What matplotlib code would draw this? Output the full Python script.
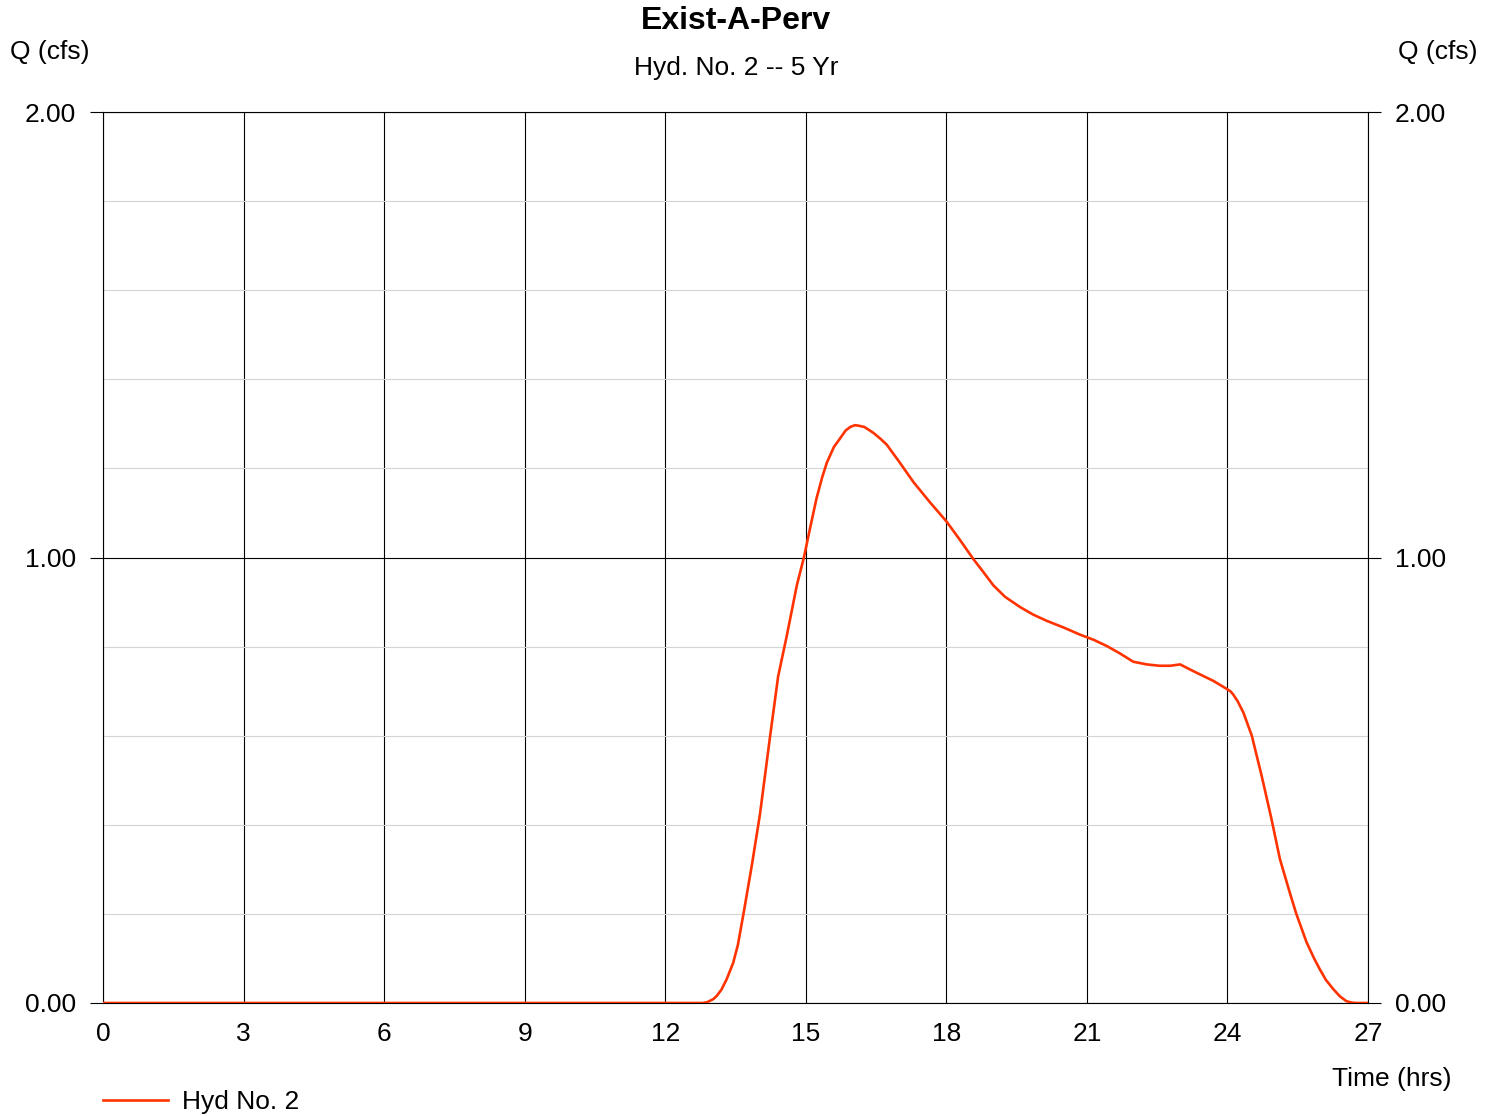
import matplotlib.pyplot as plt
from matplotlib.ticker import MultipleLocator, FormatStrFormatter

plt.rcParams['font.family'] = ['Liberation Sans', 'DejaVu Sans']

# Hydrograph (hrs, cfs)
time_hrs = [0.0, 12.0, 12.8, 12.9, 13.03, 13.1, 13.2, 13.31, 13.45, 13.55, 13.67,
            13.85, 14.02, 14.24, 14.41, 14.59, 14.81, 14.96, 15.1, 15.23, 15.35,
            15.45, 15.6, 15.73, 15.85, 15.95, 16.05, 16.12, 16.25, 16.44, 16.6,
            16.73, 17.0, 17.30, 17.65, 18.01, 18.3, 18.58, 18.8, 19.0, 19.25,
            19.57, 19.85, 20.14, 20.5, 20.85, 21.15, 21.43, 21.7, 21.99, 22.28,
            22.55, 22.78, 22.99, 23.27, 23.70, 24.0, 24.06, 24.12, 24.22, 24.34,
            24.52, 24.73, 24.94, 25.12, 25.33, 25.47, 25.69, 25.85, 25.97, 26.1,
            26.26, 26.4, 26.54, 26.65, 26.75, 27.0]
flow_cfs = [0.0, 0.0, 0.0, 0.002, 0.009, 0.016, 0.03, 0.053, 0.09, 0.13, 0.2,
            0.31, 0.422, 0.6, 0.733, 0.822, 0.938, 1.0, 1.07, 1.133, 1.18,
            1.213, 1.248, 1.267, 1.285, 1.293, 1.297, 1.296, 1.293, 1.28, 1.266,
            1.253, 1.214, 1.169, 1.124, 1.08, 1.038, 0.996, 0.966, 0.938, 0.912,
            0.889, 0.872, 0.858, 0.843, 0.827, 0.815, 0.801, 0.785, 0.766, 0.760,
            0.757, 0.757, 0.760, 0.745, 0.723, 0.704, 0.700, 0.693, 0.677, 0.652,
            0.600, 0.510, 0.413, 0.323, 0.248, 0.2, 0.136, 0.10, 0.076, 0.052,
            0.031, 0.015, 0.004, 0.001, 0.0, 0.0]

W, H = 1497, 1116
fig = plt.figure(figsize=(W / 100, H / 100), dpi=100)
ax = fig.add_axes([103 / W, 1 - 1003 / H, (1368 - 103) / W, (1003 - 112) / H])

ax.plot(time_hrs, flow_cfs, color='#ff3300', lw=1.9, label='Hyd No. 2', zorder=3)

ax.set_xlim(0, 27)
ax.set_ylim(0, 2)
ax.xaxis.set_major_locator(MultipleLocator(3))
ax.yaxis.set_major_locator(MultipleLocator(1))
ax.yaxis.set_minor_locator(MultipleLocator(0.2))
ax.yaxis.set_major_formatter(FormatStrFormatter('%.2f'))

ax.grid(which='major', color='black', lw=0.8)
ax.grid(which='minor', axis='y', color='#d4d4d4', lw=0.8)
for s in ax.spines.values():
    s.set_color('black')
    s.set_linewidth(0.8)

fs = 19
ax.tick_params(axis='x', length=0, pad=14, labelsize=fs)
ax.tick_params(axis='y', which='major', length=9.5, width=0.8, direction='out',
               pad=10, labelsize=fs, left=True, right=True, labelleft=True, labelright=True)
ax.tick_params(axis='y', which='minor', length=0)

fig.text(736 / W, 1 - 21 / H, 'Exist-A-Perv', ha='center', va='center',
         fontsize=23, fontweight='bold')
fig.text(736 / W, 1 - 68 / H, 'Hyd. No. 2 -- 5 Yr', ha='center', va='center', fontsize=fs)
fig.text(10 / W, 1 - 52 / H, 'Q (cfs)', ha='left', va='center', fontsize=fs)
fig.text(1478 / W, 1 - 52 / H, 'Q (cfs)', ha='right', va='center', fontsize=fs)
fig.text(1452 / W, 1 - 1079 / H, 'Time (hrs)', ha='right', va='center', fontsize=fs)

fig.legend(loc='center left', bbox_to_anchor=(103 / W, 1 - 1102 / H), frameon=False,
           fontsize=fs, handlelength=2.45, handletextpad=0.55, borderpad=0, borderaxespad=0)

fig.savefig('out.png', dpi=100)
